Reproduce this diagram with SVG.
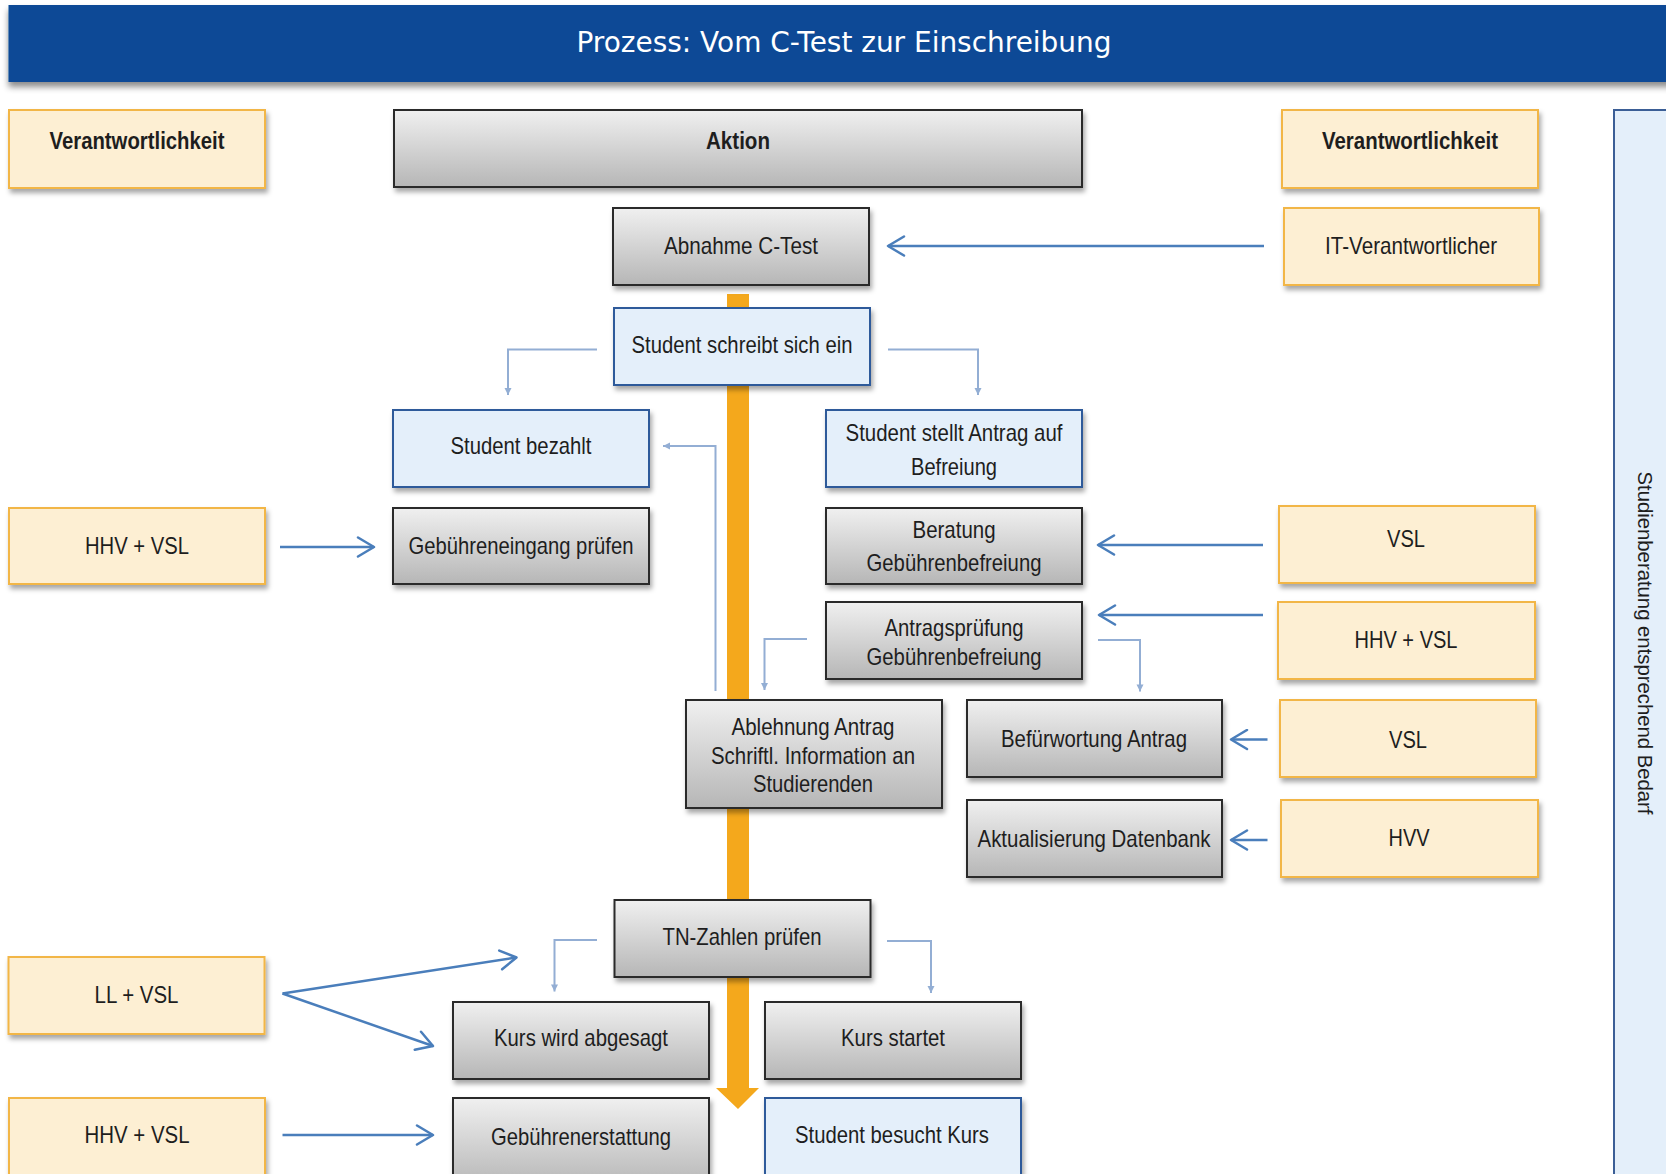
<svg xmlns="http://www.w3.org/2000/svg" width="1666" height="1174" viewBox="0 0 1666 1174">
  <defs>
    <style>
      .resp { fill: #FDEFD3; stroke: #F2B646; stroke-width: 2; filter: url(#sh); }
      .act { fill: url(#gray); stroke: #2A2A2A; stroke-width: 2; filter: url(#sh); }
      .stu { fill: #E4EFFA; stroke: #2F5A9A; stroke-width: 2; filter: url(#sh); }
      .side { fill: #E4EFFA; stroke: #3B5E96; stroke-width: 2; }
      .t { font-family: "Liberation Sans", Arial, sans-serif; font-size: 24px; fill: #1E1E1E; text-anchor: middle; }
      .b { font-weight: bold; font-size: 23px; }
      .title { font-family: "DejaVu Sans", Verdana, sans-serif; font-size: 29px; fill: #FFFFFF; text-anchor: middle; }
      .arr { stroke: #4A7EBB; stroke-width: 2.5; fill: none; marker-end: url(#chev); }
      .con { stroke: #93AED4; stroke-width: 2; fill: none; marker-end: url(#tri); }
    </style>
    <linearGradient id="gray" x1="0" y1="0" x2="0" y2="1">
      <stop offset="0" stop-color="#F0F0F0"/>
      <stop offset="1" stop-color="#B6B6B6"/>
    </linearGradient>
    <filter id="sh" x="-10%" y="-10%" width="125%" height="135%">
      <feDropShadow dx="2" dy="4" stdDeviation="2.5" flood-color="#000" flood-opacity="0.35"/>
    </filter>
    <filter id="hsh" x="-5%" y="-20%" width="110%" height="150%">
      <feDropShadow dx="0" dy="5" stdDeviation="3" flood-color="#000" flood-opacity="0.45"/>
    </filter>
    <marker id="chev" markerUnits="userSpaceOnUse" viewBox="-18 -11 20 22" markerWidth="20" markerHeight="22" refX="0" refY="0" orient="auto">
      <path d="M-16,-9.5 L0,0 L-16,9.5" fill="none" stroke="#4A7EBB" stroke-width="2.5" stroke-linejoin="round" stroke-linecap="round"/>
    </marker>
    <marker id="tri" markerUnits="userSpaceOnUse" viewBox="-8 -5 9 10" markerWidth="9" markerHeight="10" refX="0" refY="0" orient="auto">
      <path d="M-7,-3.5 L0,0 L-7,3.5 Z" fill="#93AED4"/>
    </marker>
  </defs>

  <rect x="0" y="0" width="1666" height="1174" fill="#FFFFFF"/>

  <g id="header">
    <rect x="8.5" y="5" width="1670" height="77" fill="#0D4A96" filter="url(#hsh)"/>
    <text class="title" x="844" y="52" textLength="535" lengthAdjust="spacingAndGlyphs">Prozess: Vom C-Test zur Einschreibung</text>
  </g>

  <g id="side-panel">
    <rect class="side" x="1614" y="110" width="80" height="1100"/>
    <text class="t" style="font-size:20px" transform="translate(1645,643) rotate(90)" x="0" y="7" textLength="343" lengthAdjust="spacingAndGlyphs">Studienberatung entsprechend Bedarf</text>
  </g>

  <g id="connectors">
    <path d="M727,294 H749 V1088 H759 L738,1109 L716,1088 H727 Z" fill="#F4A81C"/>
    <path class="arr" d="M1264,246 H888"/>
    <path class="con" d="M597,349.5 H508 V395"/>
    <path class="con" d="M888,349.5 H978 V395"/>
    <path class="con" d="M715.5,691 V446 H663"/>
    <path class="arr" d="M280,547 H374"/>
    <path class="arr" d="M1263,545 H1098"/>
    <path class="arr" d="M1263,615 H1099"/>
    <path class="con" d="M807,639 H764.5 V690"/>
    <path class="con" d="M1098,640 H1140 V691.5"/>
    <path class="arr" d="M1267.5,739.5 H1231"/>
    <path class="arr" d="M1267.5,840 H1231"/>
    <path class="con" d="M597,940 H554.5 V991.5"/>
    <path class="con" d="M887,941 H931 V993"/>
    <path class="arr" d="M282.5,993.5 L516.5,957.5"/>
    <path class="arr" d="M282.5,993.5 L433,1046"/>
    <path class="arr" d="M282.5,1135 H433"/>
  </g>

  <g id="resp-header-left">
    <rect class="resp" x="9" y="110" width="256" height="78"/>
    <text class="t b" x="137" y="149" textLength="175" lengthAdjust="spacingAndGlyphs">Verantwortlichkeit</text>
  </g>
  <g id="action-header">
    <rect class="act" x="394" y="110" width="688" height="77"/>
    <text class="t b" x="738" y="149" textLength="64" lengthAdjust="spacingAndGlyphs">Aktion</text>
  </g>
  <g id="resp-header-right">
    <rect class="resp" x="1282" y="110" width="256" height="78"/>
    <text class="t b" x="1410" y="149" textLength="176" lengthAdjust="spacingAndGlyphs">Verantwortlichkeit</text>
  </g>

  <g id="abnahme">
    <rect class="act" x="613" y="208" width="256" height="77"/>
    <text class="t" x="741" y="254" textLength="154" lengthAdjust="spacingAndGlyphs">Abnahme C-Test</text>
  </g>
  <g id="it-verantwortlicher">
    <rect class="resp" x="1284" y="208" width="255" height="77"/>
    <text class="t" x="1411" y="254" textLength="172" lengthAdjust="spacingAndGlyphs">IT-Verantwortlicher</text>
  </g>
  <g id="student-schreibt">
    <rect class="stu" x="614" y="308" width="256" height="77"/>
    <text class="t" x="742" y="353" textLength="221" lengthAdjust="spacingAndGlyphs">Student schreibt sich ein</text>
  </g>
  <g id="student-bezahlt">
    <rect class="stu" x="393" y="410" width="256" height="77"/>
    <text class="t" x="521" y="454" textLength="141" lengthAdjust="spacingAndGlyphs">Student bezahlt</text>
  </g>
  <g id="student-antrag">
    <rect class="stu" x="826" y="410" width="256" height="77"/>
    <text class="t" x="954" y="441" textLength="217" lengthAdjust="spacingAndGlyphs">Student stellt Antrag auf</text>
    <text class="t" x="954" y="475" textLength="86" lengthAdjust="spacingAndGlyphs">Befreiung</text>
  </g>
  <g id="hhv-vsl-1">
    <rect class="resp" x="9" y="508" width="256" height="76"/>
    <text class="t" x="137" y="554" textLength="104" lengthAdjust="spacingAndGlyphs">HHV + VSL</text>
  </g>
  <g id="gebuehreneingang">
    <rect class="act" x="393" y="508" width="256" height="76"/>
    <text class="t" x="521" y="554" textLength="225" lengthAdjust="spacingAndGlyphs">Gebühreneingang prüfen</text>
  </g>
  <g id="beratung">
    <rect class="act" x="826" y="508" width="256" height="76"/>
    <text class="t" x="954" y="538" textLength="83" lengthAdjust="spacingAndGlyphs">Beratung</text>
    <text class="t" x="954" y="571" textLength="175" lengthAdjust="spacingAndGlyphs">Gebührenbefreiung</text>
  </g>
  <g id="vsl-1">
    <rect class="resp" x="1279" y="506" width="256" height="77"/>
    <text class="t" x="1406" y="547" textLength="38" lengthAdjust="spacingAndGlyphs">VSL</text>
  </g>
  <g id="antragspruefung">
    <rect class="act" x="826" y="602" width="256" height="77"/>
    <text class="t" x="954" y="636" textLength="139" lengthAdjust="spacingAndGlyphs">Antragsprüfung</text>
    <text class="t" x="954" y="664.5" textLength="175" lengthAdjust="spacingAndGlyphs">Gebührenbefreiung</text>
  </g>
  <g id="hhv-vsl-2">
    <rect class="resp" x="1278" y="602" width="257" height="77"/>
    <text class="t" x="1406" y="648" textLength="103" lengthAdjust="spacingAndGlyphs">HHV + VSL</text>
  </g>
  <g id="ablehnung">
    <rect class="act" x="686" y="700" width="256" height="108"/>
    <text class="t" x="813" y="735" textLength="163" lengthAdjust="spacingAndGlyphs">Ablehnung Antrag</text>
    <text class="t" x="813" y="763.5" textLength="204" lengthAdjust="spacingAndGlyphs">Schriftl. Information an</text>
    <text class="t" x="813" y="792" textLength="120" lengthAdjust="spacingAndGlyphs">Studierenden</text>
  </g>
  <g id="befuerwortung">
    <rect class="act" x="967" y="700" width="255" height="77"/>
    <text class="t" x="1094" y="746.5" textLength="186" lengthAdjust="spacingAndGlyphs">Befürwortung Antrag</text>
  </g>
  <g id="vsl-2">
    <rect class="resp" x="1280" y="700" width="256" height="77"/>
    <text class="t" x="1408" y="748" textLength="38" lengthAdjust="spacingAndGlyphs">VSL</text>
  </g>
  <g id="aktualisierung">
    <rect class="act" x="967" y="800" width="255" height="77"/>
    <text class="t" x="1094" y="846.5" textLength="233" lengthAdjust="spacingAndGlyphs">Aktualisierung Datenbank</text>
  </g>
  <g id="hvv">
    <rect class="resp" x="1281" y="800" width="257" height="77"/>
    <text class="t" x="1409" y="846" textLength="41" lengthAdjust="spacingAndGlyphs">HVV</text>
  </g>
  <g id="tn-zahlen">
    <rect class="act" x="614.5" y="900" width="256" height="77"/>
    <text class="t" x="742" y="945" textLength="159" lengthAdjust="spacingAndGlyphs">TN-Zahlen prüfen</text>
  </g>
  <g id="ll-vsl">
    <rect class="resp" x="8.5" y="957" width="256" height="77"/>
    <text class="t" x="136.5" y="1003" textLength="84" lengthAdjust="spacingAndGlyphs">LL + VSL</text>
  </g>
  <g id="kurs-abgesagt">
    <rect class="act" x="453" y="1002" width="256" height="77"/>
    <text class="t" x="581" y="1046" textLength="174" lengthAdjust="spacingAndGlyphs">Kurs wird abgesagt</text>
  </g>
  <g id="kurs-startet">
    <rect class="act" x="765" y="1002" width="256" height="77"/>
    <text class="t" x="893" y="1046" textLength="104" lengthAdjust="spacingAndGlyphs">Kurs startet</text>
  </g>
  <g id="hhv-vsl-3">
    <rect class="resp" x="9" y="1098" width="256" height="90"/>
    <text class="t" x="137" y="1143" textLength="105" lengthAdjust="spacingAndGlyphs">HHV + VSL</text>
  </g>
  <g id="gebuehrenerstattung">
    <rect class="act" x="453" y="1098" width="256" height="90"/>
    <text class="t" x="581" y="1145" textLength="180" lengthAdjust="spacingAndGlyphs">Gebührenerstattung</text>
  </g>
  <g id="student-besucht">
    <rect class="stu" x="765" y="1098" width="256" height="90"/>
    <text class="t" x="892" y="1143" textLength="194" lengthAdjust="spacingAndGlyphs">Student besucht Kurs</text>
  </g>
</svg>
